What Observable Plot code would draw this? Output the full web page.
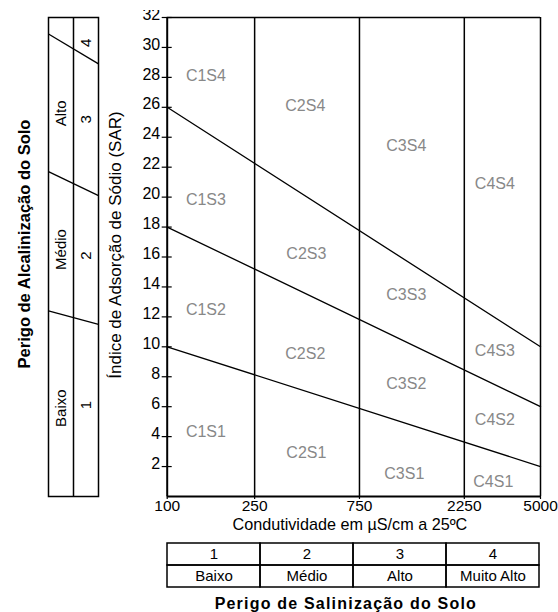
<!DOCTYPE html>
<html><head><meta charset="utf-8">
<script src="https://cdn.jsdelivr.net/npm/d3@7"></script>
<script src="https://cdn.jsdelivr.net/npm/@observablehq/plot@0.6"></script>
<style>
body{margin:0;background:#fff;}
#wrap{position:relative;width:558px;height:612px;overflow:hidden;background:#fff;}
#wrap svg{position:absolute;}
</style></head><body><div id="wrap"></div>
<script>
// ---- data ----
const xTicks = [100, 250, 750, 2250, 5000];
const yTicks = [2, 4, 6, 8, 10, 12, 14, 16, 18, 20, 22, 24, 26, 28, 30, 32];
const classBounds = [250, 750, 2250, 5000];
const sarAt100 = [10, 18, 26];
const sarAt5000 = [2, 6, 10];
const regionNames = ["C1S4","C2S4","C3S4","C4S4","C1S3","C2S3","C3S3","C4S3","C1S2","C2S2","C3S2","C4S2","C1S1","C2S1","C3S1","C4S1"];
const regionCond = [150, 425, 1225, 3100, 150, 430, 1225, 3100, 150, 425, 1225, 3100, 150, 430, 1200, 3050];
const regionSar = [28.1, 26.1, 23.4, 20.9, 19.8, 16.2, 13.5, 9.7, 12.5, 9.5, 7.5, 5.1, 4.3, 2.9, 1.5, 1.0];
const alkNames = ["Baixo", "Médio", "Alto"];
const alkNameSar = [5.9, 16.5, 25.6];
const alkNums = ["1", "2", "3", "4"];
const alkNumSar = [6.1, 16.1, 25.2, 30.3];
const alkLineLeft = [12.4, 21.7, 30.9];
const alkLineRight = [11.5, 20.1, 28.9];
const salClasses = ["1", "2", "3", "4"];
const salNames = ["Baixo", "Médio", "Alto", "Muito Alto"];
const xTitle = "Condutividade em µS/cm a 25ºC";
const yTitle = "Índice de Adsorção de Sódio (SAR)";
const alkTitle = "Perigo de Alcalinização do Solo";
const salTitle = "Perigo de Salinização do Solo";

const font = "'Liberation Sans', Arial, sans-serif";
const boundaryRows = sarAt100.flatMap((s, k) => [{k, c: 100, sar: s}, {k, c: 5000, sar: sarAt5000[k]}]);

const wrap = document.getElementById("wrap");

// ---- main diagram ----
const main = Plot.plot({
  width: 458, height: 530,
  marginLeft: 66.7, marginRight: 18, marginTop: 7, marginBottom: 44,
  x: {type: "log", domain: [100, 5000], axis: null},
  y: {domain: [0, 32]},
  style: {fontFamily: font, fontSize: "16px", background: "transparent", color: "#000"},
  marks: [
    Plot.ruleX(classBounds, {y1: 0, y2: 32, stroke: "#000", strokeWidth: 1.5}),
    Plot.ruleY([32], {x1: 100, x2: 5000, stroke: "#000", strokeWidth: 1.5}),
    Plot.ruleY([0], {x1: 100, x2: 5000, stroke: "#000", strokeWidth: 2}),
    Plot.ruleX([100], {y1: 0, y2: 32, stroke: "#000", strokeWidth: 2}),
    Plot.line(boundaryRows, {x: "c", y: "sar", z: "k", stroke: "#000", strokeWidth: 1.3}),
    Plot.ruleY(yTicks, {x1: 100, x2: 100, insetLeft: -5, insetRight: -5, stroke: "#000", strokeWidth: 1.2}),
    Plot.axisY({ticks: yTicks, tickSize: 0, tickPadding: 7, dy: -3, label: null}),
    Plot.ruleX(xTicks, {y1: 0, y2: 0, insetBottom: -3, stroke: "#000", strokeWidth: 1.2}),
    Plot.text(xTicks, {x: d => d, y: () => 0, text: d => String(d), lineAnchor: "middle", dy: 10, fontSize: 15.5}),
    Plot.text([xTitle], {text: d => d, frameAnchor: "bottom", lineAnchor: "middle", textAnchor: "middle", dy: 28, dx: -4, fontSize: 16.2}),
    Plot.text([yTitle], {text: d => d, frameAnchor: "left", lineAnchor: "middle", textAnchor: "middle", dx: -52, dy: -12, rotate: -90, fontSize: 17}),
    Plot.text(regionNames, {x: (d, i) => regionCond[i], y: (d, i) => regionSar[i], text: d => d, fill: "#888"})
  ]
});
main.style.left = "100px"; main.style.top = "10px";
wrap.appendChild(main);

// ---- alkalinity table (left) ----
const left = Plot.plot({
  width: 100, height: 530,
  marginLeft: 48, marginRight: 2, marginTop: 7, marginBottom: 44,
  x: {domain: [0, 2], axis: null},
  y: {domain: [0, 32], axis: null},
  style: {fontFamily: font, fontSize: "15px", background: "transparent", color: "#000"},
  marks: [
    Plot.frame({stroke: "#000", strokeWidth: 1.5}),
    Plot.ruleX([1], {stroke: "#000", strokeWidth: 1.5}),
    Plot.link(alkLineLeft, {x1: () => 0, x2: () => 2, y1: d => d, y2: (d, i) => alkLineRight[i], stroke: "#000", strokeWidth: 1.3}),
    Plot.text(alkNames, {x: () => 0.5, y: (d, i) => alkNameSar[i], text: d => d, rotate: -90}),
    Plot.text(alkNums, {x: () => 1.5, y: (d, i) => alkNumSar[i], text: d => d, rotate: -90}),
    Plot.text([alkTitle], {text: d => d, frameAnchor: "left", lineAnchor: "middle", textAnchor: "middle", dx: -24, dy: -13, rotate: -90, fontWeight: "bold", fontSize: 16.5})
  ]
});
left.style.left = "0px"; left.style.top = "10px";
wrap.appendChild(left);

// ---- salinity table (bottom) ----
const cellRows = salClasses.flatMap(c => [{c, r: "n"}, {c, r: "t"}]);
const bottom = Plot.plot({
  width: 558, height: 76,
  marginLeft: 166.7, marginRight: 18, marginTop: 6.7, marginBottom: 25.3,
  x: {type: "band", domain: salClasses, padding: 0, axis: null},
  y: {type: "band", domain: ["n", "t"], padding: 0, axis: null},
  style: {fontFamily: font, fontSize: "15px", background: "transparent", color: "#000"},
  marks: [
    Plot.cell(cellRows, {x: "c", y: "r", fill: "none", stroke: "#000", strokeWidth: 1.5}),
    Plot.text(salClasses, {x: d => d, y: () => "n", text: d => d}),
    Plot.text(salNames, {x: (d, i) => salClasses[i], y: () => "t", text: d => d}),
    Plot.text([salTitle], {text: d => d, frameAnchor: "bottom", lineAnchor: "middle", textAnchor: "middle", dy: 16.3, dx: -8, fontWeight: "bold", fontSize: 16})
  ]
});
bottom.style.left = "0px"; bottom.style.top = "536px";
d3.select(bottom).selectAll("text").filter(function() { return this.textContent === salTitle; }).style("letter-spacing", "1.2px");
wrap.appendChild(bottom);
</script>
</body></html>
